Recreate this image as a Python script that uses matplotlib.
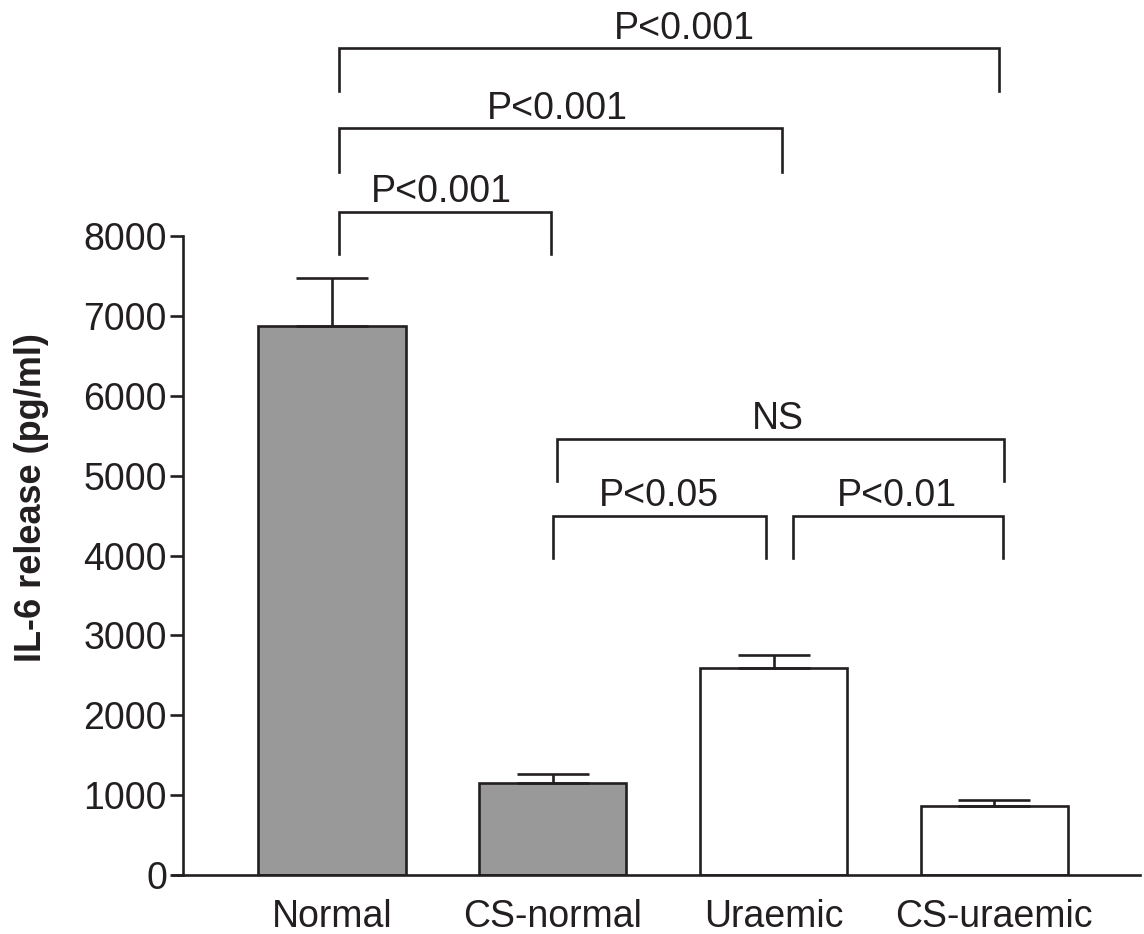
import matplotlib
matplotlib.use("Agg")
from matplotlib import pyplot as plt
import numpy as np

plt.rcParams["font.family"] = ["Liberation Sans", "DejaVu Sans"]

groups = ["Normal", "CS-normal", "Uraemic", "CS-uraemic"]
means = [6870, 1150, 2590, 860]
sem = [600, 120, 160, 80]
fills = ["#999999", "#999999", "#ffffff", "#ffffff"]

# comparison brackets: (left, right, line y, leg bottom y, label, label x)
brackets = [
    (0.03, 3.02, 10350, 9815, "P<0.001", 1.595),
    (0.03, 2.04, 9350, 8800, "P<0.001", 1.02),
    (0.03, 0.99, 8300, 7775, "P<0.001", 0.495),
    (1.02, 3.045, 5460, 4935, "NS", 2.02),
    (1.00, 1.965, 4495, 3970, "P<0.05", 1.48),
    (2.09, 3.04, 4495, 3970, "P<0.01", 2.56),
]

ink = "#231f20"
lw = 1.9
fs = 27

fig = plt.figure(figsize=(11.44, 9.34), dpi=100)
ax = fig.add_axes([173 / 1144, 1 - 875 / 934, (1140 - 173) / 1144, (875 - 236) / 934])

x = np.arange(len(groups))
ax.bar(x, means, width=0.668, color=fills, edgecolor=ink, linewidth=lw, zorder=2)
ax.errorbar(x, means, yerr=[np.zeros(len(sem)), sem], fmt="none", ecolor=ink,
            elinewidth=lw, capsize=26, capthick=lw, zorder=3)

for left, right, ytop, ybot, label, lx in brackets:
    ax.plot([left, left, right, right], [ybot, ytop, ytop, ybot], color=ink,
            linewidth=lw, clip_on=False, solid_joinstyle="miter")
    ax.text(lx, ytop + 120, label, ha="center", va="baseline", fontsize=fs, color=ink)

ax.set_xlim(-0.72, 3.66)
ax.set_ylim(0, 8000)
ax.set_yticks(np.arange(0, 8001, 1000))
ax.set_xticks(x)
ax.set_xticklabels(groups)
ax.spines["top"].set_visible(False)
ax.spines["right"].set_visible(False)
ax.spines["left"].set_position(("data", -0.675))
for side in ["left", "bottom"]:
    ax.spines[side].set_linewidth(lw)
    ax.spines[side].set_color(ink)
ax.tick_params(axis="y", length=9.5, width=lw, pad=2, labelsize=fs, colors=ink)
ax.tick_params(axis="x", length=0, pad=17, labelsize=fs, colors=ink)
for lab in ax.get_xticklabels():
    lab.set_x(lab.get_position()[0])

fig.text(32 / 1144, 1 - 498 / 934, "IL-6 release (pg/ml)", rotation=90, ha="center",
         va="center", fontsize=26, fontweight="bold", color=ink)

fig.savefig("out.png", dpi=100)
